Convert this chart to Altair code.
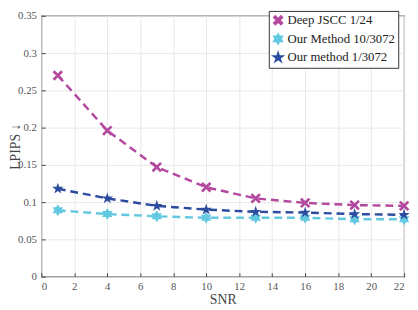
import altair as alt
import pandas as pd

snr = [1, 4, 7, 10, 13, 16, 19, 22]
deep_jscc = [0.270, 0.196, 0.147, 0.120, 0.105, 0.099, 0.096, 0.095]
ours_10 = [0.089, 0.084, 0.081, 0.079, 0.079, 0.079, 0.077, 0.077]
ours_1 = [0.118, 0.105, 0.095, 0.090, 0.087, 0.086, 0.084, 0.083]
series = ["Deep JSCC 1/24", "Our Method 10/3072", "Our method 1/3072"]
colors = ["#b4479e", "#62c9e0", "#2b4c9f"]
x_ticks = list(range(0, 23, 2))
y_ticks = [0, 0.05, 0.1, 0.15, 0.2, 0.25, 0.3, 0.35]

xmark = ("M0.863,-0.552L0.311,0L0.863,0.552L0.552,0.863L0,0.311L-0.552,0.863"
         "L-0.863,0.552L-0.311,0L-0.863,-0.552L-0.552,-0.863L0,-0.311L0.552,-0.863Z")
hexagram = "M0,-1L0.866,0.5L-0.866,0.5Z M0,1L-0.866,-0.5L0.866,-0.5Z"
star5 = ("M0,-1L0.2245,-0.309L0.951,-0.309L0.363,0.118L0.588,0.809L0,0.382"
         "L-0.588,0.809L-0.363,0.118L-0.951,-0.309L-0.2245,-0.309Z")
shapes = [xmark, hexagram, star5]

rows = []
for name, vals in zip(series, [deep_jscc, ours_10, ours_1]):
    for s, v in zip(snr, vals):
        rows.append({"SNR": s, "LPIPS": v, "series": name})
df = pd.DataFrame(rows)

FONT = "Liberation Serif"

x = alt.X("SNR:Q", scale=alt.Scale(domain=[0, 22], nice=False),
          axis=alt.Axis(values=x_ticks, title="SNR", grid=True, offset=-4,
                        tickSize=4, domain=False, labelPadding=4,
                        titlePadding=1, labelFont=FONT, titleFont=FONT))
y = alt.Y("LPIPS:Q", scale=alt.Scale(domain=[0, 0.35], nice=False),
          axis=alt.Axis(values=y_ticks, title="LPIPS ↓", format="~g",
                        grid=True, offset=-4, tickSize=4, domain=False,
                        labelPadding=5, titleX=-23, labelFont=FONT,
                        titleFont=FONT))
cscale = alt.Scale(domain=series, range=colors)
legend = alt.Legend(title=None, orient="none", legendX=232, legendY=-5,
                    fillColor="white", strokeColor="#333",
                    padding=3, labelFont=FONT, labelFontSize=13,
                    labelColor="#222", symbolSize=110, labelOffset=3,
                    rowPadding=2, labelLimit=200)

lines = alt.Chart(df).mark_line(strokeDash=[8, 5], strokeWidth=2.5).encode(
    x=x, y=y, color=alt.Color("series:N", scale=cscale, legend=legend))

pts = alt.Chart(df).mark_point(filled=True, size=150, opacity=1).encode(
    x=x, y=y,
    color=alt.Color("series:N", scale=cscale, legend=legend),
    shape=alt.Shape("series:N", scale=alt.Scale(domain=series, range=shapes),
                    legend=legend),
)

chart = (lines + pts).properties(
    width=370, height=266,
    autosize=alt.AutoSizeParams(type="none"),
    padding={"left": 34, "top": 5, "right": 6, "bottom": 31},
).configure_view(stroke="#555", strokeWidth=1.2).configure_axis(
    labelFont=FONT, titleFont=FONT, labelFontSize=11, titleFontSize=14,
    labelColor="#555", titleColor="#444", tickColor="#444", gridColor="#e8e8e8",
    titleFontWeight="normal"
)

chart.save("out.html", embed_options={"renderer": "svg", "actions": False})
